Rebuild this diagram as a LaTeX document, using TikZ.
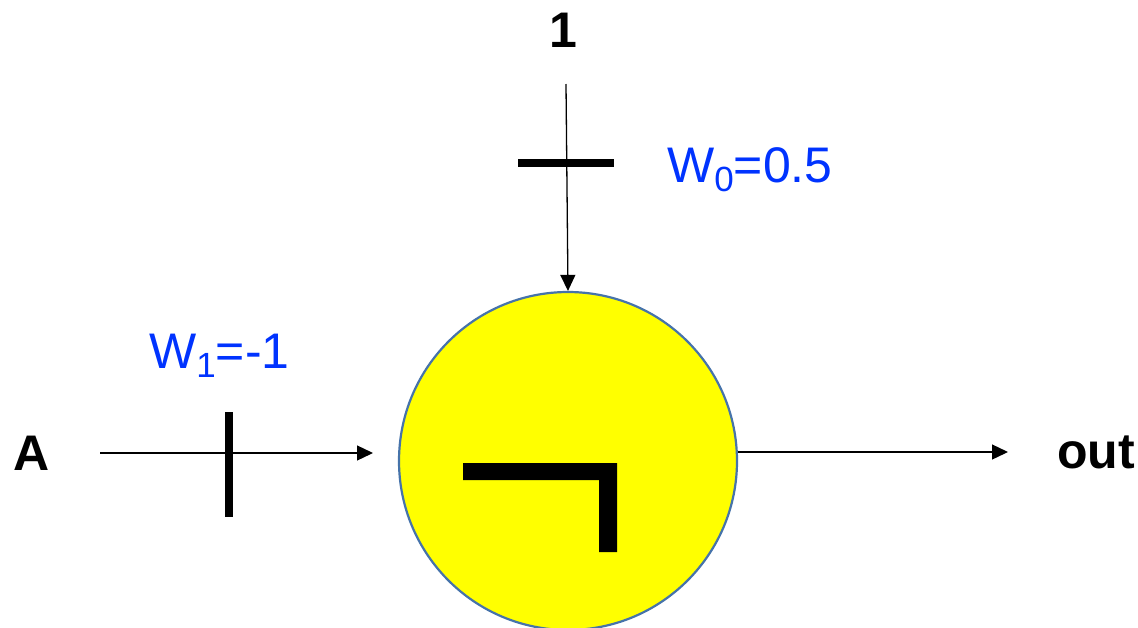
\documentclass[tikz,border=0pt]{standalone}
\usepackage{fontspec}
\setmainfont{Liberation Sans}
\usetikzlibrary{arrows.meta}
\definecolor{wblue}{RGB}{0,51,255}
\definecolor{rim}{RGB}{70,115,170}
\definecolor{fillyellow}{RGB}{255,255,0}
\tikzset{
  conn/.style={line width=1.3pt,-{Triangle[length=16pt,width=15pt]}},
  tick/.style={line width=8pt},
  lbl/.style={inner sep=0pt,anchor=base west,font=\fontsize{50}{60}\selectfont},
  wlbl/.style={lbl,text=wblue},
  blbl/.style={lbl,font=\fontsize{50}{60}\selectfont\bfseries}
}
\newcommand{\subs}[1]{\raisebox{-9pt}{\fontsize{35}{35}\selectfont #1}}
\begin{document}
\begin{tikzpicture}[x=1pt,y=-1pt]
\useasboundingbox (0,0) rectangle (1138,627);
% neuron
\node[circle,draw=rim,line width=2.2pt,fill=fillyellow,minimum size=338pt,inner sep=0pt] (n) at (568,461) {};
% step symbol
\fill[black] (463,463) -- (617,463) -- (617,552) -- (599,552) -- (599,480) -- (463,480) -- cycle;
% labels
\node[blbl,anchor=base] (one) at (563.5,47) {1};
\node[blbl] (A) at (13,470) {A};
\node[blbl] (out) at (1057,468) {out};
\node[wlbl] (w0) at (667,182) {W\subs{0}=0.5};
\node[wlbl] (w1) at (149,368) {W\subs{1}=-1};
% connector ends
\coordinate (topstart) at (566,84);
\coordinate (instart) at (100,453);
\coordinate (inend) at (373,453);
\coordinate (outend) at (1008,452);
% connectors
\draw[conn] (topstart) -- (n.north);
\draw[conn] (instart) -- (inend);
\draw[conn] (n.east |- outend) -- (outend);
% weight ticks
\draw[tick] (518,163) -- (614,163);
\draw[tick] (229,412) -- (229,517);
\end{tikzpicture}
\end{document}
